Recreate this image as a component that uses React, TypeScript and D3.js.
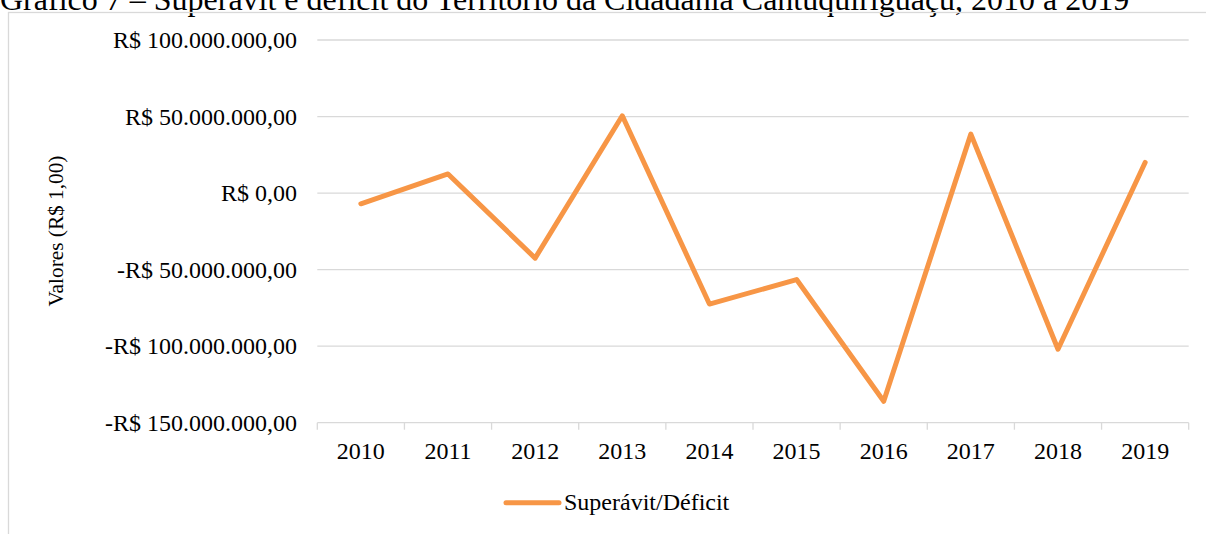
import React from "react";
import * as d3 from "d3";

const years = ["2010", "2011", "2012", "2013", "2014", "2015", "2016", "2017", "2018", "2019"];
const saldo = [-7000000, 12500000, -42500000, 50500000, -72500000, -56500000, -136000000, 38500000, -102000000, 20000000];
const yTicks = [100000000, 50000000, 0, -50000000, -100000000, -150000000];
const titleText = "Gráfico 7 – Superávit e déficit do Território da Cidadania Cantuquiriguaçu, 2010 a 2019";
const yAxisTitle = "Valores (R$ 1,00)";
const seriesName = "Superávit/Déficit";

const W = 1206;
const H = 534;
const plotLeft = 317.3;
const plotRight = 1188.7;
const plotTop = 40;
const plotBottom = 422.7;
const orange = "#F79646";
const grid = "#d9d9d9";
const font = "'Liberation Serif', 'Times New Roman', serif";

function fmt(v: number): string {
  const neg = v < 0;
  const abs = Math.abs(v);
  const intPart = Math.floor(abs).toString().replace(/\B(?=(\d{3})+(?!\d))/g, ".");
  return (neg ? "-" : "") + "R$ " + intPart + ",00";
}

export default function App() {
  const x = d3.scaleBand<string>().domain(years).range([plotLeft, plotRight]).padding(0);
  const y = d3.scaleLinear().domain([-150000000, 100000000]).range([plotBottom, plotTop]);
  const line = d3
    .line<number>()
    .x((_, i) => (x(years[i]) as number) + x.bandwidth() / 2)
    .y((d) => y(d));
  const bounds = years.map((yr) => x(yr) as number).concat([plotRight]);

  return (
    <svg
      width={W}
      height={H}
      style={{ position: "absolute", left: 0, top: 0, background: "#fff" }}
      fontFamily={font}
    >
      <rect x={0} y={0} width={W} height={H} fill="#fff" />
      <text x={0} y={10} fontSize={32} fill="#000">{titleText}</text>
      <rect x={8.5} y={12.5} width={W + 100} height={H + 100} fill="none" stroke={grid} strokeWidth={1.3} />
      {yTicks.map((t) => (
        <g key={t}>
          {t !== -150000000 && (
            <line x1={plotLeft} x2={plotRight} y1={y(t)} y2={y(t)} stroke={grid} strokeWidth={1.3} />
          )}
          <text x={297} y={y(t) + 8} fontSize={24} textAnchor="end" fill="#000">{fmt(t)}</text>
        </g>
      ))}
      <line x1={plotLeft} x2={plotRight} y1={plotBottom} y2={plotBottom} stroke={grid} strokeWidth={1.3} />
      {bounds.map((b, i) => (
        <line key={i} x1={b} x2={b} y1={plotBottom} y2={plotBottom + 7} stroke={grid} strokeWidth={1.3} />
      ))}
      {years.map((yr) => (
        <text key={yr} x={(x(yr) as number) + x.bandwidth() / 2} y={459.3} fontSize={24} textAnchor="middle" fill="#000">
          {yr}
        </text>
      ))}
      <text transform="translate(63,231) rotate(-90)" fontSize={21.3} textAnchor="middle" fill="#000">
        {yAxisTitle}
      </text>
      <path d={line(saldo) || ""} fill="none" stroke={orange} strokeWidth={5} strokeLinejoin="round" strokeLinecap="round" />
      <line x1={506} x2={559} y1={502.7} y2={502.7} stroke={orange} strokeWidth={5} strokeLinecap="round" />
      <text x={564} y={510} fontSize={24} fill="#000">{seriesName}</text>
    </svg>
  );
}
